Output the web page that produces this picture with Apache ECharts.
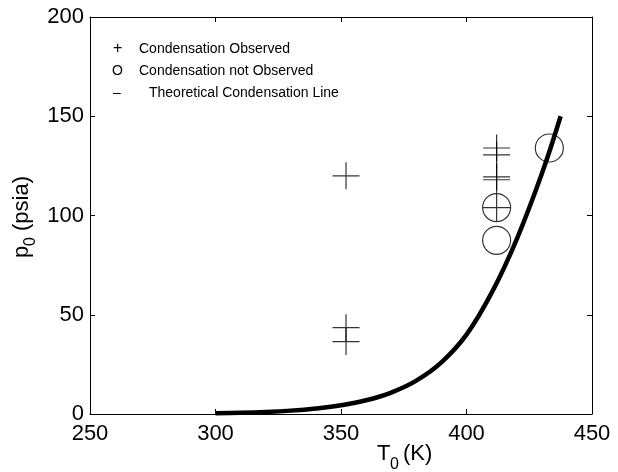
<!DOCTYPE html>
<html>
<head>
<meta charset="utf-8">
<script src="https://cdn.jsdelivr.net/npm/echarts@6/dist/echarts.min.js"></script>
<style>
  html, body { margin: 0; padding: 0; background: #fff; }
  #chart { width: 618px; height: 472px; }
</style>
</head>
<body>
<div id="chart"></div>
<script>
// Stagnation temperature (K) / pressure (psia) where condensation was seen
const observedT = [352, 352, 352, 412, 412, 412, 412, 412];
const observedP = [120, 43.5, 36.5, 134, 130.5, 119.5, 118, 104];

// Runs without condensation
const notObservedT = [412, 412, 433];
const notObservedP = [104, 87.5, 134];

// Theoretical condensation line
const lineT = [300, 310, 320, 330, 340, 350, 360, 370, 380, 390, 400, 410, 420, 430, 437.5];
const lineP = [0.4, 0.6, 1.0, 1.7, 2.8, 4.4, 6.9, 10.8, 16.8, 26, 40, 61, 88, 121, 150];

// Axis ticks
const xTicks = [250, 300, 350, 400, 450];
const yTicks = [0, 50, 100, 150, 200];

const FONT = 'Liberation Sans, Arial, sans-serif';
const zip = (a, b) => a.map((v, i) => [v, b[i]]);

const chart = echarts.init(document.getElementById('chart'), null, { renderer: 'canvas' });

const axisCommon = {
  type: 'value',
  axisLine: { show: true, onZero: false, lineStyle: { color: '#000', width: 1 } },
  axisTick: { show: true, inside: true, length: 5, lineStyle: { color: '#000', width: 1 } },
  splitLine: { show: false }
};

const xStep = xTicks[1] - xTicks[0];
const yStep = yTicks[1] - yTicks[0];

const option = {
  animation: false,
  backgroundColor: '#fff',
  grid: { left: 90, right: 26, top: 17, bottom: 58, containLabel: false, outerBoundsMode: 'none' },
  xAxis: [
    Object.assign({}, axisCommon, {
      position: 'bottom', min: xTicks[0], max: xTicks[xTicks.length - 1], interval: xStep,
      axisLabel: { color: '#000', fontSize: 22, fontFamily: FONT, margin: 9 }
    }),
    Object.assign({}, axisCommon, {
      position: 'top', min: xTicks[0], max: xTicks[xTicks.length - 1], interval: xStep,
      axisLabel: { show: false }
    })
  ],
  yAxis: [
    Object.assign({}, axisCommon, {
      position: 'left', min: yTicks[0], max: yTicks[yTicks.length - 1], interval: yStep,
      axisLabel: { color: '#000', fontSize: 22, fontFamily: FONT, margin: 6 }
    }),
    Object.assign({}, axisCommon, {
      position: 'right', min: yTicks[0], max: yTicks[yTicks.length - 1], interval: yStep,
      axisLabel: { show: false }
    })
  ],
  series: [
    {
      name: 'Condensation Observed',
      type: 'scatter',
      xAxisIndex: 0, yAxisIndex: 0,
      data: zip(observedT, observedP),
      symbol: 'path://M13,0L13,26M0,13L26,13',
      symbolSize: 27,
      itemStyle: { color: 'rgba(0,0,0,0)', borderColor: '#000', borderWidth: 1.2 },
      z: 3
    },
    {
      name: 'Condensation not Observed',
      type: 'scatter',
      xAxisIndex: 0, yAxisIndex: 0,
      data: zip(notObservedT, notObservedP),
      symbol: 'circle',
      symbolSize: 28,
      itemStyle: { color: 'rgba(0,0,0,0)', borderColor: '#000', borderWidth: 1.2 },
      z: 3
    },
    {
      name: 'Theoretical Condensation Line',
      type: 'line',
      xAxisIndex: 0, yAxisIndex: 0,
      data: zip(lineT, lineP),
      smooth: 0.4,
      showSymbol: false,
      lineStyle: { color: '#000', width: 4.5 },
      z: 4
    }
  ],
  graphic: [
    // Legend entries written as plain text
    { type: 'text', left: 113, top: 41, style: { text: '+', font: '16px ' + FONT, fill: '#000' } },
    { type: 'text', left: 139, top: 42, style: { text: 'Condensation Observed', font: '14px ' + FONT, fill: '#000' } },
    { type: 'text', left: 112, top: 64, style: { text: 'O', font: '14px ' + FONT, fill: '#000' } },
    { type: 'text', left: 139, top: 64, style: { text: 'Condensation not Observed', font: '14px ' + FONT, fill: '#000' } },
    { type: 'text', left: 113, top: 86, style: { text: '\u2013', font: '14px ' + FONT, fill: '#000' } },
    { type: 'text', left: 149, top: 86, style: { text: 'Theoretical Condensation Line', font: '14px ' + FONT, fill: '#000' } },

    // x-axis title: T with subscript 0
    { type: 'text', x: 377, y: 443, style: { text: 'T', font: '22px ' + FONT, fill: '#000', verticalAlign: 'top' } },
    { type: 'text', x: 390, y: 457, style: { text: '0', font: '16px ' + FONT, fill: '#000', verticalAlign: 'top' } },
    { type: 'text', x: 403, y: 443, style: { text: '(K)', font: '22px ' + FONT, fill: '#000', verticalAlign: 'top' } },

    // y-axis title: p with subscript 0, rotated
    {
      type: 'group', x: 33, y: 258, rotation: Math.PI / 2,
      children: [
        { type: 'text', x: 0, y: 0, style: { text: 'p', font: '22px ' + FONT, fill: '#000', verticalAlign: 'bottom' } },
        { type: 'text', x: 12, y: 6, style: { text: '0', font: '16px ' + FONT, fill: '#000', verticalAlign: 'bottom' } },
        { type: 'text', x: 27, y: 0, style: { text: '(psia)', font: '22px ' + FONT, fill: '#000', verticalAlign: 'bottom' } }
      ]
    }
  ]
};

chart.setOption(option);
</script>
</body>
</html>
